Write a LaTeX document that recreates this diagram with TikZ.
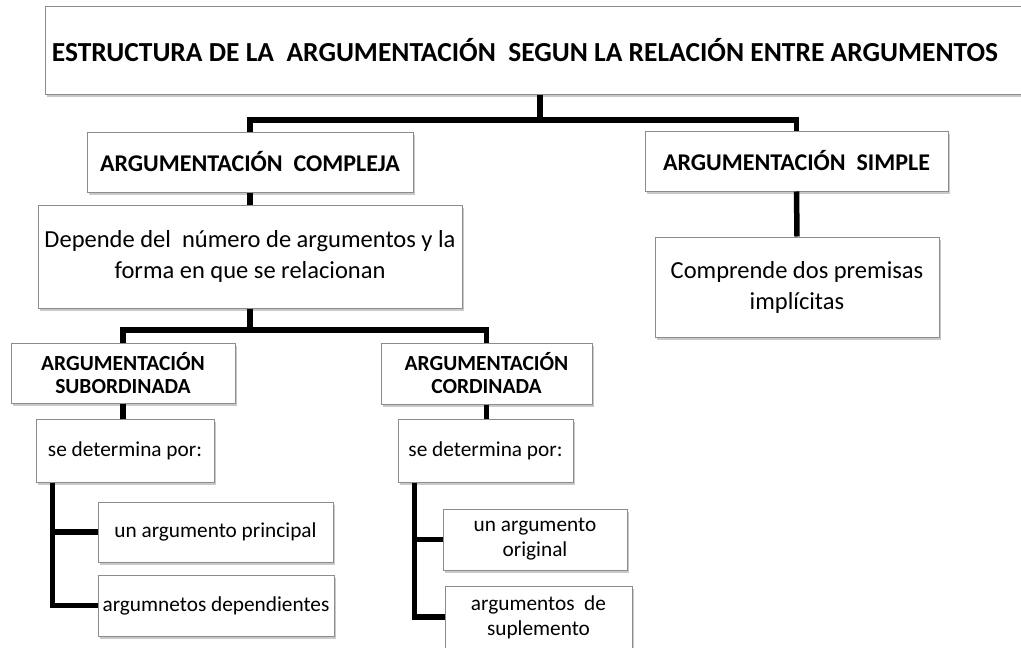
\documentclass[tikz,border=0pt]{standalone}
\usepackage{fontspec}
\setmainfont{Carlito}
\usetikzlibrary{positioning,shadows}

\begin{document}
\begin{tikzpicture}[
    x=1pt, y=-1pt,
    conn/.style={%
      line width=5.5pt,
      black,
    },
  ]

\tikzstyle{box} = [rectangle, draw=black!45, line width=1pt, fill=white, align=center, inner sep=2pt, drop shadow={shadow xshift=1.5pt, shadow yshift=-2.5pt, opacity=0.3, fill=black!70}]

\tikzstyle{head} = [box, font=\bfseries\fontsize{24}{28}\selectfont]

\tikzstyle{subhead} = [box, font=\bfseries\fontsize{21.5}{23}\selectfont]

\tikzstyle{txt} = [box, font=\fontsize{24.5}{31}\selectfont]

\tikzstyle{small} = [box, font=\fontsize{21.3}{25}\selectfont]

    \useasboundingbox (0,0) rectangle (1021,648);

    \node [box, minimum width=1000, minimum height=88, font=\bfseries\fontsize{27.5}{32}\selectfont] (title) at (545,50) {ESTRUCTURA DE LA~ ARGUMENTACIÓN~ SEGUN LA RELACIÓN ENTRE ARGUMENTOS\hspace{40pt}};

    \node [head, minimum width=326, minimum height=60] (compleja) at (250,162) {ARGUMENTACIÓN~ COMPLEJA};
    \node [txt, minimum width=424, minimum height=103] (depende) at (250,256.5) {Depende del~ número de argumentos y la\\forma en que se relacionan};
    \node [head, minimum width=303, minimum height=60] (simple) at (796.5,161) {ARGUMENTACIÓN~ SIMPLE};
    \node [txt, minimum width=284, minimum height=100] (comprende) at (797,287) {Comprende dos premisas\\implícitas};

    \node [subhead, minimum width=224, minimum height=60] (subordinada) at (123,373) {ARGUMENTACIÓN\\SUBORDINADA};
    \node [small, minimum width=178, minimum height=63] (sedetL) at (125,450.5) {se determina por:};
    \node [small, minimum width=235, minimum height=60] (principal) at (215.5,532) {un argumento principal};
    \node [small, minimum width=236, minimum height=61] (dependientes) at (216,605.5) {argumnetos dependientes};

    \node [subhead, minimum width=211, minimum height=61] (cordinada) at (486.5,373.5) {ARGUMENTACIÓN\\CORDINADA};
    \node [small, minimum width=175, minimum height=63] (sedetR) at (485.5,450.5) {se determina por:};
    \node [small, minimum width=184, minimum height=61] (original) at (535,539.5) {un argumento\\original};
    \node [small, minimum width=187, minimum height=62] (suplemento) at (538.5,617) {argumentos~ de\\suplemento};

    % junctions
    \coordinate (j1) at (540,120);
    \coordinate (j2) at (250,330);
    \coordinate (bL) at ([xshift=17pt]sedetL.south west);
    \coordinate (bR) at ([xshift=17pt]sedetR.south west);

    \draw [conn] (title.south -| j1) -- (j1);
    \draw [conn] (compleja.north) |- (j1) -| (simple.north);
    \draw [conn] (compleja.south) -- (depende.north);
    \draw [conn] (simple.south) -- (comprende.north);

    \draw [conn] (depende.south) -- (j2);
    \draw [conn] (subordinada.north) |- (j2) -| (cordinada.north);
    \draw [conn] (subordinada.south) -- (subordinada.south |- sedetL.north);
    \draw [conn] (cordinada.south) -- (cordinada.south |- sedetR.north);

    \draw [conn] (bL) |- (dependientes.west);
    \draw [conn] (bL |- principal.west) -- (principal.west);
    \draw [conn] (bR) |- (suplemento.west);
    \draw [conn] (bR |- original.west) -- (original.west);
\end{tikzpicture}
\end{document}
